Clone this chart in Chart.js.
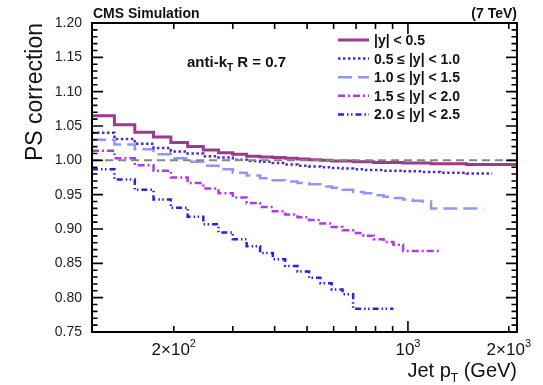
<!DOCTYPE html>
<html>
<head>
<meta charset="utf-8">
<script src="https://cdn.jsdelivr.net/npm/chart.js@4.4.0/dist/chart.umd.min.js"></script>
<style>
html, body { margin: 0; padding: 0; background: #fff; }
#wrap { width: 543px; height: 385px; }
</style>
</head>
<body>
<div id="wrap"><canvas id="psChart" width="543" height="385"></canvas></div>
<script>
// jet pT bin edges (GeV)
const binEdges = [114, 133, 153, 174, 196, 220, 245, 272, 300, 330, 362, 395, 430, 468, 507, 548, 592, 638, 686, 737, 790, 846, 905, 967, 1032, 1101, 1172, 1248, 1327, 1410, 1497, 1588, 1684, 1784, 1890, 2000, 2116];

// PS correction per bin, one array per rapidity bin
const corrY00 = [1.065, 1.052, 1.041, 1.034, 1.026, 1.020, 1.015, 1.011, 1.009, 1.006,
                 1.005, 1.004, 1.003, 1.002, 1.001, 1.000, 0.999, 0.999, 0.998, 0.998,
                 0.997, 0.997, 0.997, 0.996, 0.996, 0.996, 0.995, 0.995, 0.995, 0.995,
                 0.994, 0.994, 0.994, 0.994, 0.994, 0.994];
const corrY05 = [1.040, 1.031, 1.024, 1.018, 1.013, 1.010, 1.006, 1.004, 1.001, 0.999,
                 0.998, 0.996, 0.994, 0.992, 0.991, 0.990, 0.989, 0.988, 0.987, 0.986,
                 0.986, 0.985, 0.985, 0.984, 0.984, 0.983, 0.983, 0.982, 0.982, 0.982,
                 0.981, 0.981, 0.981];
const corrY10 = [1.030, 1.023, 1.016, 1.009, 1.003, 0.998, 0.992, 0.987, 0.982, 0.978,
                 0.974, 0.971, 0.969, 0.967, 0.965, 0.962, 0.960, 0.957, 0.954, 0.952,
                 0.949, 0.947, 0.945, 0.943, 0.941, 0.940, 0.930, 0.930, 0.930, 0.930,
                 0.930, 0.930];
const corrY15 = [1.014, 1.003, 0.993, 0.985, 0.975, 0.967, 0.959, 0.952, 0.946, 0.938,
                 0.932, 0.926, 0.921, 0.917, 0.913, 0.908, 0.903, 0.898, 0.894, 0.890,
                 0.885, 0.881, 0.877, 0.868, 0.868, 0.868, 0.868];
const corrY20 = [0.987, 0.972, 0.957, 0.943, 0.931, 0.918, 0.907, 0.895, 0.885, 0.875,
                 0.865, 0.856, 0.846, 0.838, 0.829, 0.821, 0.812, 0.805, 0.784, 0.784,
                 0.784, 0.784];

const seriesLabels = ['|y| < 0.5', '0.5 \u2264 |y| < 1.0', '1.0 \u2264 |y| < 1.5', '1.5 \u2264 |y| < 2.0', '2.0 \u2264 |y| < 2.5'];
const seriesColors = ['#9c3a8e', '#4a2ad2', '#8e98f2', '#b23ae6', '#2a22e0'];
const seriesDash = [[], [2.5, 2.5], [14, 6], [7, 3, 2, 3], [6, 3, 1.5, 2.5, 1.5, 3]];
const seriesWidth = [3, 2.5, 2.5, 2.5, 2.5];
const allSeries = [corrY00, corrY05, corrY10, corrY15, corrY20];

const refValue = 1.0;
const yMajorTicks = [0.75, 0.80, 0.85, 0.90, 0.95, 1.00, 1.05, 1.10, 1.15, 1.20];
const xMinorTicks = [200, 300, 400, 500, 600, 700, 800, 900, 2000];
const xMajorTicks = [1000];
const xTickLabels = [
    { v: 200, base: '2\u00d710', exp: '2' },
    { v: 1000, base: '10', exp: '3' },
    { v: 2000, base: '2\u00d710', exp: '3' }
];

const FONT = "'Liberation Sans', Arial, sans-serif";

function histPoints(vals) {
    const pts = vals.map((v, i) => ({ x: binEdges[i], y: v }));
    pts.push({ x: binEdges[vals.length], y: vals[vals.length - 1] });
    return pts;
}

const datasets = [{
    label: 'ref',
    data: [{ x: binEdges[0], y: refValue }, { x: binEdges[binEdges.length - 1], y: refValue }],
    borderColor: '#858585',
    borderWidth: 2,
    borderDash: [8, 5],
    pointRadius: 0,
    fill: false
}];
allSeries.forEach((vals, i) => {
    datasets.push({
        label: seriesLabels[i],
        data: histPoints(vals),
        borderColor: seriesColors[i],
        borderWidth: seriesWidth[i],
        borderDash: seriesDash[i],
        stepped: true,
        pointRadius: 0,
        fill: false
    });
});

function drawSubText(ctx, x, y, parts, align) {
    // parts: [{t, font, dy}]
    let total = 0;
    parts.forEach(p => { ctx.font = p.font; p.w = ctx.measureText(p.t).width; total += p.w; });
    let cx = align === 'right' ? x - total : (align === 'center' ? x - total / 2 : x);
    ctx.textAlign = 'left';
    parts.forEach(p => {
        ctx.font = p.font;
        ctx.fillText(p.t, cx, y + (p.dy || 0));
        cx += p.w;
    });
}

const framePlugin = {
    id: 'frame',
    afterDraw(chart) {
        const { ctx, chartArea: a, scales: { x, y } } = chart;
        ctx.save();
        // ticks
        ctx.strokeStyle = '#000';
        ctx.lineWidth = 1.6;
        ctx.beginPath();
        for (let i = 0; i <= 45; i++) {
            const py = y.getPixelForValue(0.75 + i * 0.01);
            const len = i % 5 === 0 ? 11 : 5.5;
            ctx.moveTo(a.left, py); ctx.lineTo(a.left + len, py);
            ctx.moveTo(a.right, py); ctx.lineTo(a.right - len, py);
        }
        xMinorTicks.concat(xMajorTicks).forEach(v => {
            const px = x.getPixelForValue(v);
            const len = xMajorTicks.includes(v) ? 11 : 6;
            ctx.moveTo(px, a.bottom); ctx.lineTo(px, a.bottom - len);
            ctx.moveTo(px, a.top); ctx.lineTo(px, a.top + len);
        });
        ctx.stroke();
        ctx.lineWidth = 2;
        ctx.strokeRect(a.left, a.top, a.right - a.left, a.bottom - a.top);

        ctx.fillStyle = '#111';
        ctx.textBaseline = 'alphabetic';
        // x tick labels
        xTickLabels.forEach(l => {
            drawSubText(ctx, x.getPixelForValue(l.v), 355, [
                { t: l.base, font: '17px ' + FONT },
                { t: l.exp, font: '11px ' + FONT, dy: -8 }
            ], 'center');
        });
        // x title
        drawSubText(ctx, a.right, 377, [
            { t: 'Jet p', font: '20px ' + FONT },
            { t: 'T', font: '12px ' + FONT, dy: 5 },
            { t: ' (GeV)', font: '20px ' + FONT }
        ], 'right');
        // y title
        ctx.save();
        ctx.translate(42, a.top);
        ctx.rotate(-Math.PI / 2);
        ctx.font = '23px ' + FONT;
        ctx.textAlign = 'right';
        ctx.fillText('PS correction', 0, 0);
        ctx.restore();

        // header
        ctx.font = 'bold 14px ' + FONT;
        ctx.textAlign = 'left';
        ctx.fillText('CMS Simulation', 93, 18);
        ctx.textAlign = 'right';
        ctx.fillText('(7 TeV)', a.right, 18);

        // algorithm label
        drawSubText(ctx, 187, 67, [
            { t: 'anti-k', font: 'bold 15px ' + FONT },
            { t: 'T', font: 'bold 10px ' + FONT, dy: 4 },
            { t: ' R = 0.7', font: 'bold 15px ' + FONT }
        ], 'left');

        // legend
        seriesLabels.forEach((lab, i) => {
            const cy = 40 + i * 18.6;
            ctx.beginPath();
            ctx.strokeStyle = seriesColors[i];
            ctx.lineWidth = seriesWidth[i];
            ctx.setLineDash(seriesDash[i]);
            ctx.moveTo(338, cy); ctx.lineTo(369, cy);
            ctx.stroke();
            ctx.setLineDash([]);
            ctx.font = 'bold 14px ' + FONT;
            ctx.textAlign = 'left';
            ctx.fillStyle = '#111';
            ctx.fillText(lab, 374, cy + 5);
        });
        ctx.restore();
    }
};

const ctx = document.getElementById('psChart').getContext('2d');
const psChart = new Chart(ctx, {
    type: 'line',
    data: { datasets: datasets },
    options: {
        responsive: false,
        animation: false,
        layout: { padding: { top: 23, right: 26, left: 0, bottom: 0 } },
        scales: {
            x: {
                type: 'logarithmic',
                min: binEdges[0],
                max: binEdges[binEdges.length - 1],
                grid: { display: false },
                border: { display: false },
                ticks: { display: false },
                afterFit: s => { s.height = 53; }
            },
            y: {
                min: yMajorTicks[0],
                max: yMajorTicks[yMajorTicks.length - 1],
                grid: { display: false, drawTicks: false },
                border: { display: false },
                afterBuildTicks: s => { s.ticks = yMajorTicks.map(v => ({ value: v })); },
                ticks: {
                    padding: 10,
                    color: '#222',
                    font: { family: FONT, size: 14 },
                    callback: v => Number(v).toFixed(2)
                },
                afterFit: s => { s.width = 92; }
            }
        },
        plugins: {
            legend: { display: false },
            tooltip: { enabled: false }
        }
    },
    plugins: [framePlugin]
});
</script>
</body>
</html>
